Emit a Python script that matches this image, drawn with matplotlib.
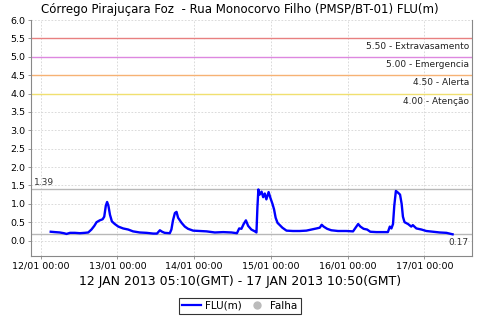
import matplotlib
matplotlib.use("Agg")
import matplotlib.pyplot as plt
from matplotlib.lines import Line2D

# hours since 12/01/2013 00:00 (local axis time)
hours = [3.17, 4.5, 6.0, 7.3, 8.1, 9.2, 10.7, 12.3, 13.8, 14.9, 15.9, 16.8, 17.5, 18.5, 19.4,
         19.9, 20.4, 20.8, 21.2, 21.7, 22.3, 23.2, 24.3, 25.8, 27.4, 28.9, 31.0, 33.1, 35.2,
         36.4, 37.3, 38.0, 38.8, 40.4, 40.9, 41.4, 42.0, 42.5, 43.0, 44.1, 45.1, 46.1, 47.7,
         49.8, 51.9, 54.5, 57.1, 59.7, 61.4, 62.1, 62.8, 63.5, 64.2, 64.9, 65.9, 67.0, 67.5,
         67.8, 68.1, 68.5, 69.1, 69.6, 70.1, 70.6, 71.3, 71.9, 72.5, 73.0, 73.5, 74.1, 74.8,
         75.6, 76.9, 78.9, 81.0, 83.1, 84.7, 86.3, 87.3, 87.9, 88.5, 89.6, 90.9, 93.0, 95.6,
         97.7, 98.5, 99.3, 100.0, 101.0, 102.1, 103.1, 105.0, 107.1, 108.6, 109.2, 109.7,
         110.2, 110.6, 111.1, 111.8, 112.4, 112.9, 113.3, 113.8, 114.9, 115.9, 116.4, 117.5,
         119.1, 120.6, 122.7, 124.8, 126.9, 128.83]
flu = [0.24, 0.23, 0.22, 0.20, 0.18, 0.21, 0.21, 0.20, 0.21, 0.22, 0.30, 0.40, 0.50, 0.55, 0.58,
       0.65, 0.95, 1.05, 0.95, 0.70, 0.52, 0.45, 0.38, 0.33, 0.30, 0.25, 0.22, 0.21, 0.19,
       0.19, 0.28, 0.24, 0.21, 0.20, 0.30, 0.55, 0.75, 0.78, 0.62, 0.48, 0.38, 0.32, 0.27,
       0.26, 0.25, 0.22, 0.23, 0.22, 0.20, 0.33, 0.32, 0.45, 0.55, 0.40, 0.30, 0.25, 0.22,
       0.90, 1.39, 1.25, 1.33, 1.18, 1.28, 1.12, 1.32, 1.15, 1.00, 0.85, 0.62, 0.48, 0.42,
       0.35, 0.27, 0.26, 0.26, 0.27, 0.30, 0.33, 0.35, 0.43, 0.38, 0.32, 0.28, 0.26, 0.26,
       0.25, 0.35, 0.45, 0.38, 0.32, 0.30, 0.24, 0.23, 0.23, 0.23, 0.38, 0.33,
       0.45, 0.95, 1.35, 1.30, 1.25, 1.00, 0.65, 0.50, 0.45, 0.38, 0.42, 0.33,
       0.30, 0.26, 0.24, 0.22, 0.21, 0.17]

tick_hours = [0, 24, 48, 72, 96, 120]
tick_labels = ["12/01 00:00", "13/01 00:00", "14/01 00:00", "15/01 00:00", "16/01 00:00", "17/01 00:00"]
y_ticks = [0.0, 0.5, 1.0, 1.5, 2.0, 2.5, 3.0, 3.5, 4.0, 4.5, 5.0, 5.5, 6.0]

thresholds = [5.5, 5.0, 4.5, 4.0]
threshold_labels = ["5.50 - Extravasamento", "5.00 - Emergencia", "4.50 - Alerta", "4.00 - Atenção"]
threshold_colors = ["#e88080", "#dd88e0", "#f6b274", "#f0e070"]

max_val = 1.39
last_val = 0.17

title = "Córrego Pirajuçara Foz  - Rua Monocorvo Filho (PMSP/BT-01) FLU(m)"
xlabel = "12 JAN 2013 05:10(GMT) - 17 JAN 2013 10:50(GMT)"

plt.rcParams['font.family'] = ['DejaVu Sans']
fig = plt.figure(figsize=(4.8, 3.2), dpi=100)
ax = fig.add_axes([31/480, 1-256/320, (472-31)/480, (256-20)/320])

ax.set_xlim(-3.0, 134.9)
ax.set_ylim(-0.42, 6.0)

ax.grid(True, color="#d4d4d4", linestyle=(0, (2, 2)), linewidth=0.6)
ax.set_axisbelow(True)

for t, lab, c in zip(thresholds, threshold_labels, threshold_colors):
    ax.axhline(t, color=c, linewidth=1.0, zorder=2)
    ax.text(0.993, t - 0.09, lab, transform=ax.get_yaxis_transform(), ha="right", va="top",
            fontsize=6.5, color="#222222")

ax.axhline(max_val, color="#b8b8b8", linewidth=1.0, zorder=2)
ax.axhline(last_val, color="#b8b8b8", linewidth=1.0, zorder=2)
ax.text(0.006, max_val + 0.08, "%.2f" % max_val, transform=ax.get_yaxis_transform(),
        ha="left", va="bottom", fontsize=6.5, color="#333333")
ax.text(0.993, last_val - 0.09, "%.2f" % last_val, transform=ax.get_yaxis_transform(),
        ha="right", va="top", fontsize=6.5, color="#333333")

ax.plot(hours, flu, color="#0000ff", linewidth=1.7, zorder=3)

ax.set_xticks(tick_hours)
ax.set_xticklabels(tick_labels, fontsize=6.8)
ax.set_yticks(y_ticks)
ax.set_yticklabels(["%.1f" % v for v in y_ticks], fontsize=6.8)
ax.tick_params(length=2, width=0.6, color="#888888", pad=2)

for s in ["left", "bottom", "right"]:
    ax.spines[s].set_color("#888888")
    ax.spines[s].set_linewidth(0.8)
ax.spines["top"].set_visible(False)

fig.text(0.5, 1-10/320, title, ha="center", va="center", fontsize=8.5)
fig.text(0.5, 1-282/320, xlabel, ha="center", va="center", fontsize=9)

handles = [Line2D([0], [0], color="#0000ff", linewidth=1.6),
           Line2D([0], [0], marker="o", color="none", markerfacecolor="#bbbbbb",
                  markeredgecolor="#bbbbbb", markersize=5)]
leg = fig.legend(handles, ["FLU(m)", "Falha"], loc="center", bbox_to_anchor=(0.5, 1-306/320),
                 ncol=2, fontsize=7.5, frameon=True, fancybox=False, handlelength=1.8,
                 handletextpad=0.4, columnspacing=0.5, borderpad=0.3, borderaxespad=0)
leg.get_frame().set_edgecolor("black")
leg.get_frame().set_linewidth(0.8)

fig.savefig("out.png", dpi=100)
